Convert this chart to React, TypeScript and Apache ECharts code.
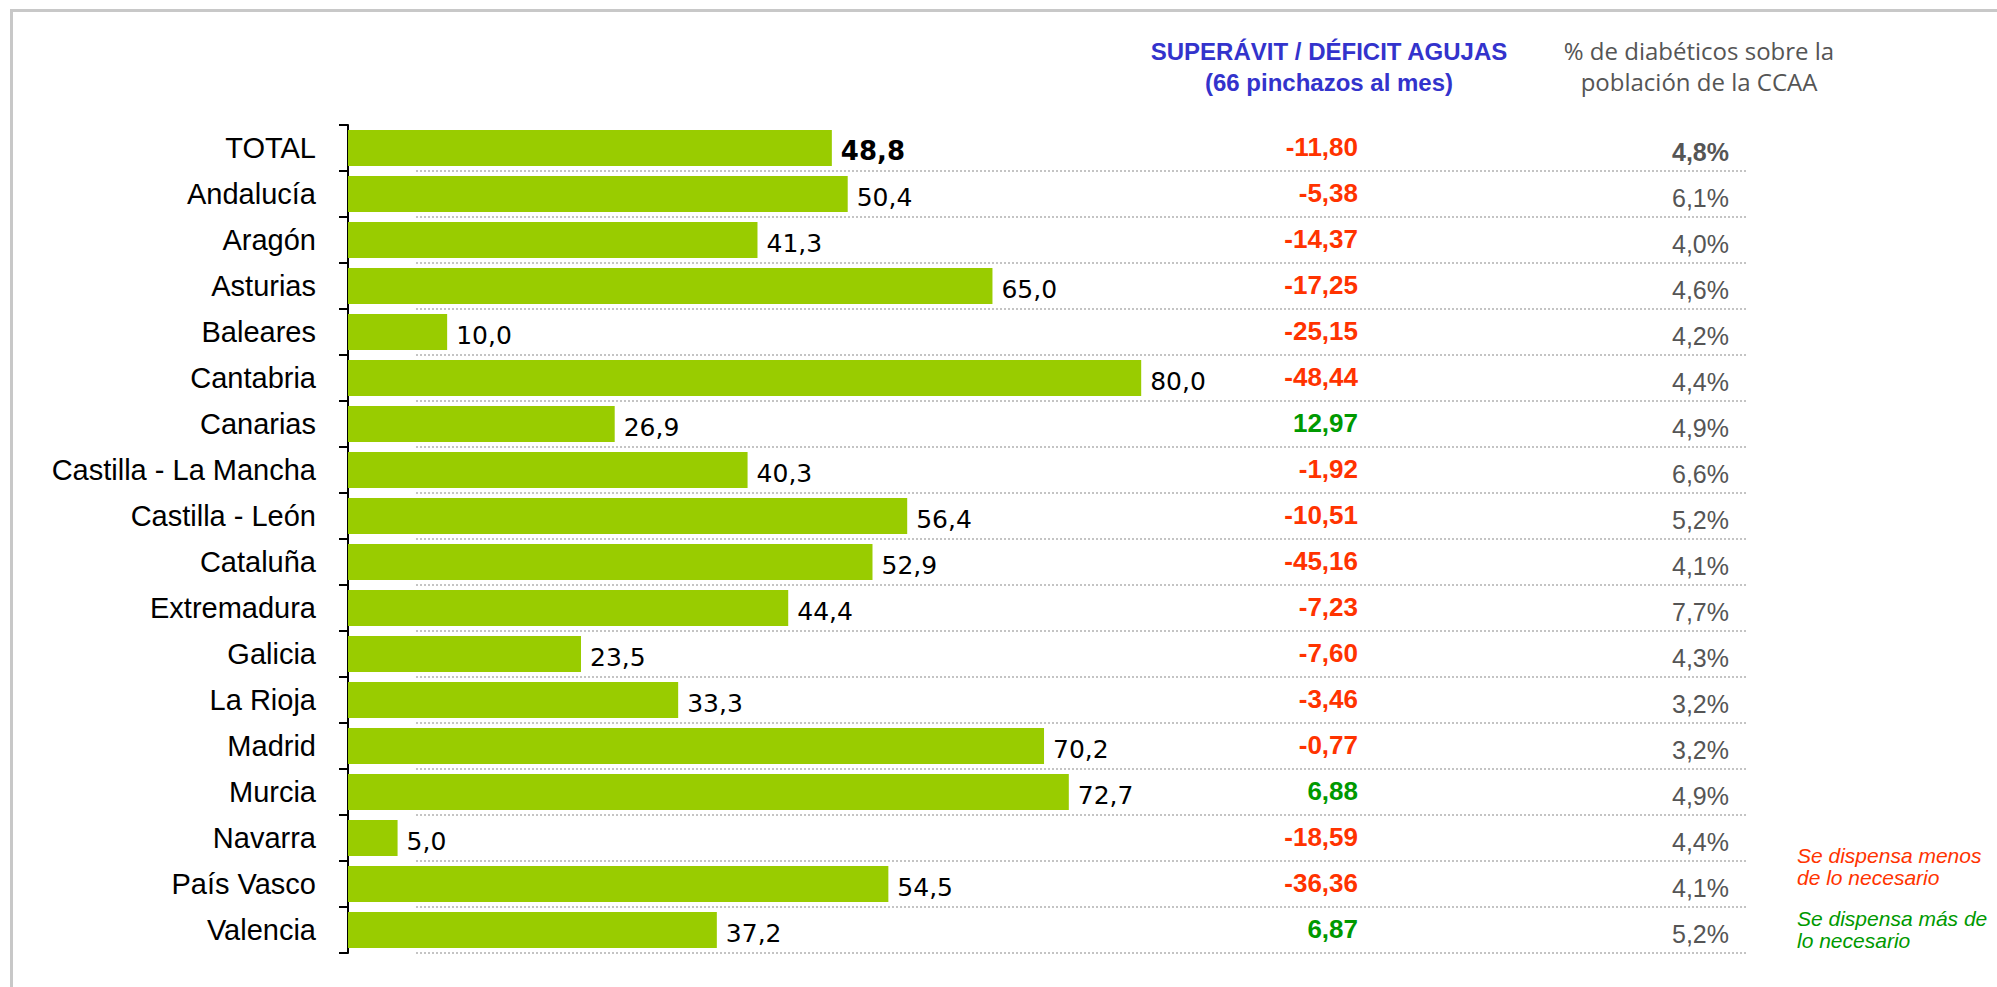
import React, { useEffect, useRef } from "react";
import * as echarts from "echarts";

const categories = [
  "TOTAL", "Andalucía", "Aragón", "Asturias", "Baleares", "Cantabria", "Canarias",
  "Castilla - La Mancha", "Castilla - León", "Cataluña", "Extremadura", "Galicia",
  "La Rioja", "Madrid", "Murcia", "Navarra", "País Vasco", "Valencia",
];
const dispensed = [48.8, 50.4, 41.3, 65.0, 10.0, 80.0, 26.9, 40.3, 56.4, 52.9, 44.4, 23.5, 33.3, 70.2, 72.7, 5.0, 54.5, 37.2];
const balance = [-11.80, -5.38, -14.37, -17.25, -25.15, -48.44, 12.97, -1.92, -10.51, -45.16, -7.23, -7.60, -3.46, -0.77, 6.88, -18.59, -36.36, 6.87];
const diabetesPct = [4.8, 6.1, 4.0, 4.6, 4.2, 4.4, 4.9, 6.6, 5.2, 4.1, 7.7, 4.3, 3.2, 3.2, 4.9, 4.4, 4.1, 5.2];

const headerBalance = ["SUPERÁVIT / DÉFICIT AGUJAS", "(66 pinchazos al mes)"];
const headerPct = ["% de diabéticos sobre la", "población de la CCAA"];
const noteLess = ["Se dispensa menos", "de lo necesario"];
const noteMore = ["Se dispensa más de", "lo necesario"];

const RED = "#ff3300";
const GREEN = "#009900";
const BLUE = "#3333cc";
const ARIAL = "'Liberation Sans', Arial, sans-serif";
const VERD = "'DejaVu Sans', Verdana, sans-serif";

const fmt = (v: number, d: number) => v.toFixed(d).replace(".", ",");

export default function App() {
  const ref = useRef<HTMLDivElement>(null);
  useEffect(() => {
    if (!ref.current) return;
    const chart = echarts.init(ref.current, null, { renderer: "svg" });
    const barData = dispensed.map((v, i) =>
      i === 0
        ? { value: v, label: { fontWeight: "bold", fontSize: 26 } }
        : { value: v }
    );
    const tableData = categories.map((_, i) => [0, i, balance[i], diabetesPct[i]]);

    const option: any = {
      animation: false,
      backgroundColor: "#ffffff",
      textStyle: { fontFamily: ARIAL },
      grid: { left: 348, right: 251, top: 125, bottom: 34, containLabel: false },
      xAxis: { type: "value", min: 0, max: 141, show: false },
      yAxis: {
        type: "category",
        data: categories,
        inverse: true,
        axisLine: { show: true, lineStyle: { color: "#000", width: 2 } },
        axisTick: { show: true, length: 9, lineStyle: { color: "#000", width: 2 } },
        axisLabel: {
          color: "#000", fontSize: 29, fontFamily: ARIAL, margin: 32,
          padding: [10, 0, 0, 0],
        },
        splitLine: { show: false },
      },
      graphic: [
        {
          type: "rect",
          shape: { x: 11.5, y: 10.5, width: 2200, height: 1200 },
          style: { fill: "none", stroke: "#c8c8c8", lineWidth: 3 },
          silent: true,
        },
        ...headerBalance.map((t, k) => ({
          type: "text",
          x: 1329,
          y: 51 + k * 31,
          style: {
            text: t, fill: BLUE, fontSize: 24, fontWeight: "bold", fontFamily: ARIAL,
            textAlign: "center", textVerticalAlign: "middle", align: "center", verticalAlign: "middle",
          },
        })),
        ...headerPct.map((t, k) => ({
          type: "text",
          x: 1699,
          y: 50 + k * 31,
          style: {
            text: t, fill: "#555555", fontSize: 24, fontFamily: "'Open Sans', sans-serif",
            textAlign: "center", textVerticalAlign: "middle", align: "center", verticalAlign: "middle",
          },
        })),
        ...noteLess.map((t, k) => ({
          type: "text",
          x: 1797,
          y: 855 + k * 22,
          style: {
            text: t, fill: RED, fontSize: 21, fontStyle: "italic", fontFamily: ARIAL,
            textAlign: "left", textVerticalAlign: "middle", align: "left", verticalAlign: "middle",
          },
        })),
        ...noteMore.map((t, k) => ({
          type: "text",
          x: 1797,
          y: 918 + k * 22,
          style: {
            text: t, fill: GREEN, fontSize: 21, fontStyle: "italic", fontFamily: ARIAL,
            textAlign: "left", textVerticalAlign: "middle", align: "left", verticalAlign: "middle",
          },
        })),
      ],
      series: [
        {
          type: "bar",
          data: barData,
          barWidth: 36,
          itemStyle: { color: "#99cc00" },
          label: {
            show: true,
            position: "right",
            distance: 9,
            offset: [0, 3],
            color: "#000",
            fontSize: 25,
            fontFamily: VERD,
            formatter: (p: any) => fmt(p.value, 1),
          },
          z: 3,
        },
        {
          type: "custom",
          data: tableData,
          encode: { x: 0, y: 1 },
          z: 2,
          renderItem: (params: any, api: any) => {
            const idx = api.value(1);
            const bal = api.value(2);
            const pct = api.value(3);
            const c = api.coord([0, idx]);
            const band = api.size([0, 1])[1];
            const cs = params.coordSys;
            const yLine = c[1] + band / 2;
            const bold = idx === 0;
            return {
              type: "group",
              children: [
                {
                  type: "line",
                  shape: { x1: cs.x + 68, y1: yLine, x2: cs.x + cs.width, y2: yLine },
                  style: { stroke: "#c4c4c4", lineWidth: 2, lineDash: [2, 2] },
                },
                {
                  type: "text",
                  style: {
                    text: fmt(bal, 2),
                    x: cs.x + 1010,
                    y: c[1] - 1,
                    fill: bal < 0 ? RED : GREEN,
                    fontSize: 26,
                    fontWeight: "bold",
                    fontFamily: ARIAL,
                    textAlign: "right", textVerticalAlign: "middle", align: "right", verticalAlign: "middle",
                  },
                },
                {
                  type: "text",
                  style: {
                    text: fmt(pct, 1) + "%",
                    x: cs.x + 1381,
                    y: c[1] + 4,
                    fill: "#555555",
                    fontSize: 25,
                    fontWeight: bold ? "bold" : "normal",
                    fontFamily: ARIAL,
                    textAlign: "right", textVerticalAlign: "middle", align: "right", verticalAlign: "middle",
                  },
                },
              ],
            };
          },
        },
      ],
    };
    chart.setOption(option);
    return () => chart.dispose();
  }, []);
  return (
    <div
      ref={ref}
      style={{ position: "absolute", left: 0, top: 0, width: 1997, height: 987, background: "#fff" }}
    />
  );
}
